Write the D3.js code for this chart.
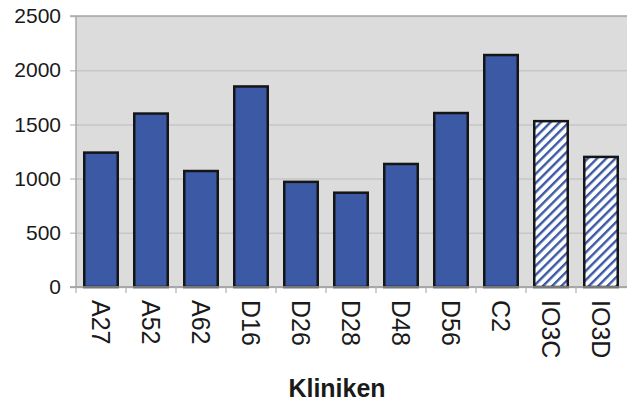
<!doctype html>
<html lang="de">
  <head>
    <meta charset="utf-8">
    <title>Kliniken</title>
    <style>
      body {
        margin: 0;
        background: #fff;
      }
      svg text {
        font-family: "Liberation Sans", Arial, sans-serif;
        fill: #1a1a1a;
      }
    </style>
  </head>
  <body>
    <div id="chart"></div>

    <script src="https://cdn.jsdelivr.net/npm/d3@7"></script>
    <script>
      const kliniken = ['A27', 'A52', 'A62', 'D16', 'D26', 'D28', 'D48', 'D56', 'C2', 'IO3C', 'IO3D']
      const werte = [1240, 1600, 1070, 1850, 970, 870, 1135, 1605, 2140, 1530, 1200]
      const schraffiert = ['IO3C', 'IO3D']
      const yTicks = [0, 500, 1000, 1500, 2000, 2500]

      const width = 627
      const height = 405
      const plot = { left: 76, right: 626, top: 16, bottom: 287 }
      const blue = '#3b59a4'

      const svg = d3.select('#chart')
        .append('svg')
          .attr('width', width)
          .attr('height', height)

      // diagonal hatching for the two IO3 bars
      const defs = svg.append('defs')
      const pattern = defs.append('pattern')
        .attr('id', 'hatch')
        .attr('patternUnits', 'userSpaceOnUse')
        .attr('width', 6.5)
        .attr('height', 6.5)
        .attr('patternTransform', 'rotate(45)')
      pattern.append('rect')
        .attr('width', 6.5)
        .attr('height', 6.5)
        .attr('fill', '#fff')
      pattern.append('rect')
        .attr('width', 2.4)
        .attr('height', 6.5)
        .attr('fill', blue)

      const x = d3.scaleBand()
        .domain(kliniken)
        .range([plot.left, plot.right])
        .paddingInner(0.28)
        .paddingOuter(0.14)

      const y = d3.scaleLinear()
        .domain([0, 2500])
        .range([plot.bottom, plot.top])

      // plot background
      svg.append('rect')
        .attr('x', plot.left)
        .attr('y', plot.top)
        .attr('width', width - plot.left)
        .attr('height', plot.bottom - plot.top)
        .attr('fill', '#dcdcdc')

      // gridlines + y labels
      const yAxis = d3.axisLeft(y)
        .tickValues(yTicks)
        .tickFormat(d3.format('d'))
        .tickSize(-(width - plot.left) - 6)
        .tickPadding(14)

      const gy = svg.append('g')
        .attr('transform', `translate(${plot.left - 6}, 0)`)
        .call(yAxis)
      gy.select('.domain').remove()
      gy.selectAll('.tick line')
        .attr('stroke', '#c6c6c6')
        .attr('stroke-width', 1.5)
      gy.selectAll('.tick text')
        .attr('x', -9)
        .style('font-size', '21px')
        .style('fill', '#1a1a1a')

      // top & left border
      svg.append('line')
        .attr('x1', plot.left - 6).attr('x2', width)
        .attr('y1', plot.top).attr('y2', plot.top)
        .attr('stroke', '#a8a8a8')
        .attr('stroke-width', 1.5)
      svg.append('line')
        .attr('x1', plot.left).attr('x2', plot.left)
        .attr('y1', plot.top).attr('y2', plot.bottom)
        .attr('stroke', '#a8a8a8')
        .attr('stroke-width', 1.5)

      // bars
      const sw = 2.5
      svg.append('g')
        .selectAll('rect')
        .data(kliniken)
        .join('rect')
          .attr('x', d => x(d) + sw / 2)
          .attr('y', (d, i) => y(werte[i]))
          .attr('width', x.bandwidth() - sw)
          .attr('height', (d, i) => y(0) - y(werte[i]))
          .attr('fill', d => schraffiert.includes(d) ? 'url(#hatch)' : blue)
          .attr('stroke', '#151515')
          .attr('stroke-width', sw)

      // x axis line and ticks
      svg.append('line')
        .attr('x1', plot.left - 6).attr('x2', width)
        .attr('y1', plot.bottom).attr('y2', plot.bottom)
        .attr('stroke', '#9a9a9a')
        .attr('stroke-width', 1.5)

      const boundaries = kliniken.map(d => x(d) - x.step() * x.paddingInner() / 2)
      svg.append('g')
        .selectAll('line')
        .data(boundaries)
        .join('line')
          .attr('x1', d => d).attr('x2', d => d)
          .attr('y1', plot.bottom).attr('y2', plot.bottom + 6)
          .attr('stroke', '#b0b0b0')
          .attr('stroke-width', 1.2)

      // x labels, rotated
      svg.append('g')
        .selectAll('text')
        .data(kliniken)
        .join('text')
          .attr('transform', d => `translate(${x(d) + x.bandwidth() / 2}, 300) rotate(90)`)
          .attr('dy', '0.36em')
          .style('font-size', '25px')
          .text(d => d)

      svg.append('text')
        .attr('x', 337)
        .attr('y', 397)
        .attr('text-anchor', 'middle')
        .style('font-size', '25px')
        .style('font-weight', 'bold')
        .text('Kliniken')
    </script>
  </body>
</html>
